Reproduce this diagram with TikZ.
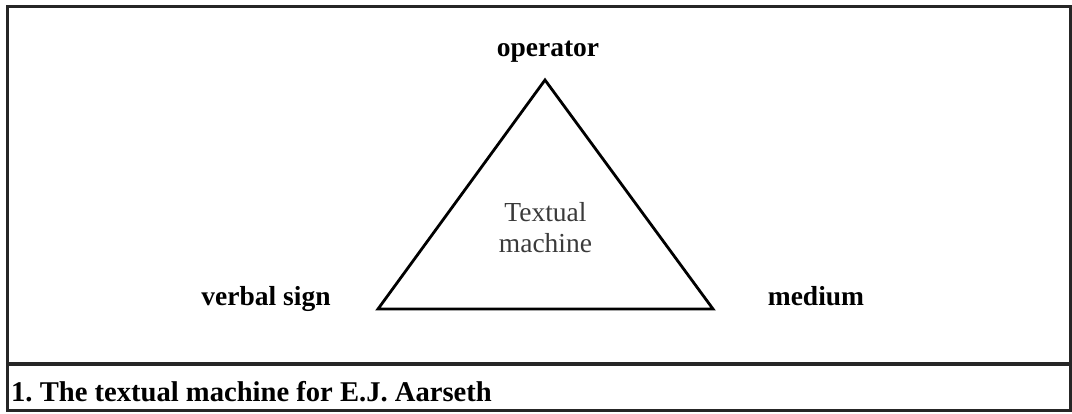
\documentclass[tikz,border=0pt]{standalone}
\usepackage{fontspec}
\setmainfont{Liberation Serif}
\frenchspacing
\definecolor{inner}{HTML}{3A3A3A}
\begin{document}
\begin{tikzpicture}[x=1pt,y=-1pt,
  frame/.style={draw=black!85,line width=3pt},
  tri/.style={draw=black,line width=2.8pt,line join=miter},
  lbl/.style={font=\fontsize{27.5}{31}\selectfont\bfseries,anchor=base,inner sep=0pt},
  captext/.style={font=\fontsize{28.6}{32}\selectfont\bfseries,anchor=base west,inner sep=0pt},
  mid/.style={font=\fontsize{27.5}{31}\selectfont,text=inner,align=center,inner sep=0pt}]
\useasboundingbox (0,0) rectangle (1072,414);
\draw[frame] (7.5,7) rectangle (1070,410);
\draw[frame] (7.5,364) -- (1070,364);
\coordinate (top) at (545,80);
\coordinate (left) at (378,309);
\coordinate (right) at (713,309);
\draw[tri] (top) -- (right) -- (left) -- cycle;
\node[lbl] (op) at (548,56.5) {operator};
\node[lbl] (vs) at (266,306) {verbal sign};
\node[lbl] (me) at (816,306) {medium};
\node[mid,anchor=base] (tm1) at (545.5,221.5) {Textual};
\node[mid,anchor=base] (tm2) at (545.5,253) {machine};
\node[captext] (caption) at (11,401.5) {1. The textual machine for E.J. Aarseth};
\end{tikzpicture}
\end{document}
